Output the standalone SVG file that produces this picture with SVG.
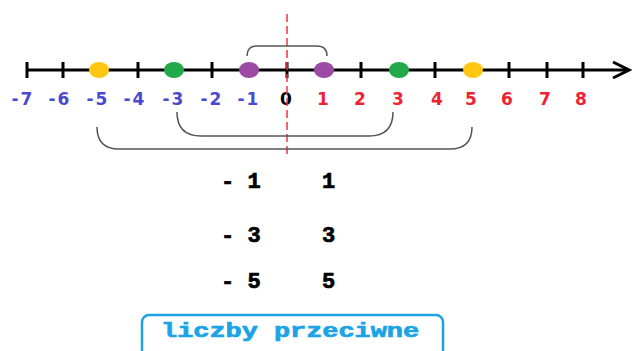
<svg xmlns="http://www.w3.org/2000/svg" width="632" height="351" viewBox="0 0 632 351">
<style>
.tick{stroke:#000;stroke-width:3}
.br{fill:none;stroke:#555;stroke-width:1.5}
.lbl{font-family:"DejaVu Sans",Verdana,sans-serif;font-weight:bold;font-size:17px;text-anchor:middle}
.neg{fill:#4a4ad0;letter-spacing:2px}
.pos{fill:#ee2233}
.pair{font-family:"Liberation Mono","Courier New",monospace;font-weight:bold;font-size:22px;fill:#000;stroke:#000;stroke-width:0.7}
</style>
<rect width="632" height="351" fill="#fff"/>
<g id="axis">
<line x1="26" y1="70" x2="628" y2="70" stroke="#000" stroke-width="3"/>
<polyline points="613,62 629,70 613,78" fill="none" stroke="#000" stroke-width="3"/>
<g class="tick">
<line x1="27" y1="62" x2="27" y2="78"/>
<line x1="63" y1="62" x2="63" y2="78"/>
<line x1="138" y1="62" x2="138" y2="78"/>
<line x1="212" y1="62" x2="212" y2="78"/>
<line x1="287" y1="62" x2="287" y2="78"/>
<line x1="361" y1="62" x2="361" y2="78"/>
<line x1="435" y1="62" x2="435" y2="78"/>
<line x1="509" y1="62" x2="509" y2="78"/>
<line x1="547" y1="62" x2="547" y2="78"/>
<line x1="583" y1="62" x2="583" y2="78"/>
</g>
</g>
<g id="labels" class="lbl">
<text class="neg" x="23" y="105">-7</text>
<text class="neg" x="60" y="105">-6</text>
<text class="neg" x="98" y="105">-5</text>
<text class="neg" x="135" y="105">-4</text>
<text class="neg" x="174" y="105">-3</text>
<text class="neg" x="212" y="105">-2</text>
<text class="neg" x="249" y="105">-1</text>
<text x="286" y="105" fill="#000">0</text>
<text class="pos" x="323" y="105">1</text>
<text class="pos" x="360" y="105">2</text>
<text class="pos" x="398" y="105">3</text>
<text class="pos" x="437" y="105">4</text>
<text class="pos" x="471" y="105">5</text>
<text class="pos" x="507" y="105">6</text>
<text class="pos" x="545" y="105">7</text>
<text class="pos" x="581" y="105">8</text>
</g>
<line id="symmetry" x1="287" y1="14" x2="287" y2="158" stroke="#ee3344" stroke-width="1.5" stroke-dasharray="8,4"/>
<g id="connectors" class="br">
<path d="M247,56 Q247,46 257,46 L317,46 Q327,46 327,56"/>
<path d="M177,112 Q177,136 201,136 L369,136 Q393,136 393,112"/>
<path d="M97,127 Q97,149 119,149 L450,149 Q472,149 472,127"/>
</g>
<g id="dot-m5"><ellipse cx="99" cy="70" rx="10" ry="8" fill="#ffc710"/></g>
<g id="dot-m3"><ellipse cx="174" cy="70" rx="10" ry="8" fill="#22aa4a"/></g>
<g id="dot-m1"><ellipse cx="249" cy="70" rx="10" ry="8" fill="#9c4aa4"/></g>
<g id="dot-1"><ellipse cx="324" cy="70" rx="10" ry="8" fill="#9c4aa4"/></g>
<g id="dot-3"><ellipse cx="399" cy="70" rx="10" ry="8" fill="#22aa4a"/></g>
<g id="dot-5"><ellipse cx="473" cy="70" rx="10" ry="8" fill="#ffc710"/></g>
<g id="pairs" class="pair">
<text x="221" y="188">- 1</text>
<text x="322" y="188">1</text>
<text x="221" y="242">- 3</text>
<text x="322" y="242">3</text>
<text x="221" y="288">- 5</text>
<text x="322" y="288">5</text>
</g>
<g id="caption">
<rect x="142" y="315" width="301" height="42" rx="7" fill="none" stroke="#1aa4e6" stroke-width="2.5"/>
<text x="161" y="337" font-family="Liberation Mono,'Courier New',monospace" font-weight="bold" font-size="20" fill="#1aa4e6" stroke="#1aa4e6" stroke-width="0.7" textLength="258" lengthAdjust="spacingAndGlyphs">liczby przeciwne</text>
</g>
</svg>
